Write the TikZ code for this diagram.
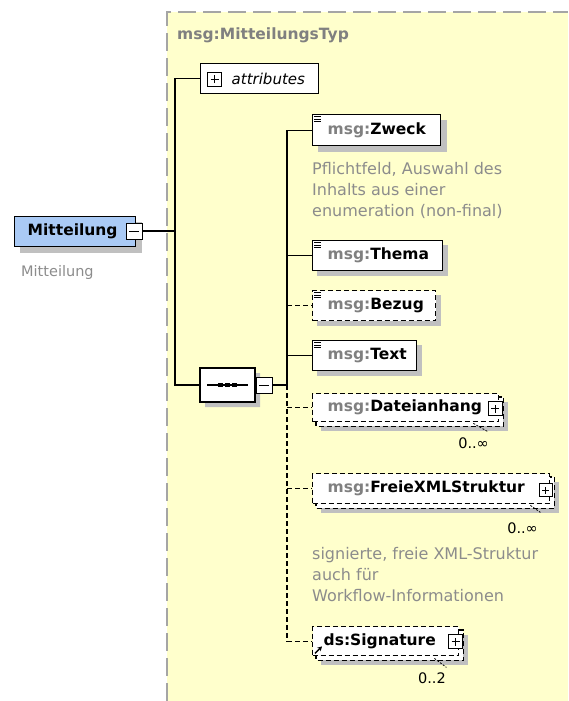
\documentclass[tikz,border=0pt]{standalone}
\usepackage{fontspec}
\setmainfont{DejaVu Sans}
\usetikzlibrary{arrows.meta,shapes.misc}

\definecolor{paneyellow}{RGB}{255,255,204}
\definecolor{framegrey}{RGB}{165,165,165}
\definecolor{shadowgrey}{RGB}{192,192,192}
\definecolor{prefixgrey}{RGB}{128,128,128}
\definecolor{notegrey}{RGB}{140,140,140}
\definecolor{rootblue}{RGB}{170,202,245}

\pgfdeclarelayer{pane}
\pgfdeclarelayer{shade}
\pgfsetlayers{pane,shade,main}

% namespace prefix in grey
\newcommand{\pfx}[1]{\textcolor{prefixgrey}{#1}}
% grey drop shadow behind a node, offset by #2 pt
\newcommand{\castshadow}[2]{%
  \fill[shadowgrey] ([shift={(#2pt,-#2pt)}]#1.north west) rectangle ([shift={(#2pt,-#2pt)}]#1.south east);}
% second, offset box behind an element that may repeat
\newcommand{\repeatback}[1]{%
  \draw[boxline, optdash, fill=white] ([shift={(4pt,-4pt)}]#1.north west) rectangle ([shift={(4pt,-4pt)}]#1.south east);}
% three-line marker for elements with simple content
\newcommand{\contentmark}[1]{%
  \foreach \d in {2.5,5,7.5}{\draw[line width=0.9pt] ([shift={(2pt,-\d pt)}]#1.north west) -- ++(6.5pt,0pt);}}

\begin{document}
\begin{tikzpicture}[x=1pt,y=-1pt,
  boxline/.style={line width=1.4pt},
  optdash/.style={dash pattern=on 5pt off 3pt},
  elem/.style={boxline, draw=black, fill=white, anchor=north west, inner xsep=0pt, inner ysep=0pt,
    align=left, font=\fontsize{15.5}{18}\selectfont\bfseries},
  optelem/.style={elem, optdash},
  link/.style={line width=1.3pt, draw=black},
  optlink/.style={link, optdash},
  note/.style={anchor=base west, align=left, inner sep=0pt, text=notegrey, font=\fontsize{16}{21}\selectfont},
  mult/.style={anchor=base east, inner sep=0pt, font=\fontsize{14.5}{17}\selectfont},
  tick/.style={line width=0.8pt, dash pattern=on 2pt off 1.5pt},
  toggle/.style={draw=black, line width=1pt, fill=white, minimum size=#1, inner sep=0pt},
  toggle/.default=15pt,
  signminus/.style={path picture={\draw[line width=1pt]
    ([xshift=3pt]path picture bounding box.west) -- ([xshift=-3pt]path picture bounding box.east);}},
  signplus/.style={path picture={\draw[line width=1pt]
    ([xshift=3pt]path picture bounding box.west) -- ([xshift=-3pt]path picture bounding box.east)
    ([yshift=3pt]path picture bounding box.south) -- ([yshift=-3pt]path picture bounding box.north);}},
  seqshape/.style={chamfered rectangle, chamfered rectangle xsep=7pt, chamfered rectangle ysep=7pt,
    minimum width=55pt, minimum height=34pt, inner sep=0pt},
]
\useasboundingbox (0,0) rectangle (568,701);

% type pane
\begin{pgfonlayer}{pane}
  \fill[paneyellow] (167,12) rectangle (568,701);
  \draw[framegrey, line width=1.5pt, dash pattern=on 18pt off 7pt] (167,701) -- (167,12) -- (568,12);
\end{pgfonlayer}

\node[anchor=base west, inner sep=0pt, text=prefixgrey, font=\fontsize{15.5}{18}\selectfont\bfseries]
  (typename) at (177,40) {msg:MitteilungsTyp};

% root element
\node[elem, fill=rootblue, text width=121pt, minimum height=30pt] (root) at (14,216) {\hspace*{13pt}Mitteilung};
\node[toggle=16pt, signminus] (roottog) at (134,231) {};
\node[anchor=base west, inner sep=0pt, text=notegrey, font=\fontsize{14.5}{17}\selectfont]
  (rootnote) at (21,276) {Mitteilung};

% attributes
\node[elem, font=\fontsize{15}{18}\selectfont\itshape, text width=118pt, minimum height=30pt]
  (attr) at (200,63) {\hspace*{31pt}attributes};
\node[toggle=14pt, signplus] (attrplus) at (214.5,79) {};

% sequence compositor
\node[seqshape, draw=black, line width=1.3pt, fill=white] (seq) at (227.5,385) {};
\draw[line width=1.3pt] ([xshift=8pt]seq.west) -- ([xshift=-8pt]seq.east);
\foreach \dx in {-7,0,7}
  \fill ([xshift=\dx pt]seq.center) +(-2.2pt,-2.2pt) rectangle +(2.2pt,2.2pt);
\node[toggle=16pt, signminus] (seqtog) at (264,385) {};

% child elements
\node[elem, text width=128pt, minimum height=31pt] (zweck) at (312,114) {\hspace*{15pt}\pfx{msg:}Zweck};
\node[elem, text width=130pt, minimum height=30pt] (thema) at (312,240) {\hspace*{15pt}\pfx{msg:}Thema};
\node[optelem, text width=123pt, minimum height=30pt] (bezug) at (312,290) {\hspace*{15pt}\pfx{msg:}Bezug};
\node[elem, text width=104pt, minimum height=30pt] (txt) at (312,340) {\hspace*{15pt}\pfx{msg:}Text};
\node[optelem, text width=186pt, minimum height=28pt] (datei) at (312,393) {\hspace*{15pt}\pfx{msg:}Dateianhang};
\node[optelem, text width=237pt, minimum height=30pt] (freie) at (312,473) {\hspace*{15pt}\pfx{msg:}FreieXMLStruktur};
\node[optelem, text width=146pt, minimum height=29pt] (sig) at (312,626) {\hspace*{11pt}ds:Signature};

\contentmark{zweck}
\contentmark{thema}
\contentmark{bezug}
\contentmark{txt}

\node[toggle=14pt, signplus] (dateiplus) at (495,408.5) {};
\node[toggle=13pt, signplus] (freieplus) at (545.5,490) {};
\node[toggle=14pt, signplus] (sigplus) at (455.5,641.5) {};

% reference arrow
\draw[line width=1.3pt, -{Stealth[length=4.5pt,width=5pt]}]
  ([shift={(3pt,3pt)}]sig.south west) -- ++(7pt,7pt);

% occurrence ranges
\node[mult] (dateimult) at (489,448) {0..∞};
\node[mult] (freiemult) at (538,533) {0..∞};
\node[mult] (sigmult) at (446,683) {0..2};
\draw[tick] ([shift={(-26pt,-1pt)}]datei.south east) -- ++(14pt,-8pt);
\draw[tick] ([shift={(-20pt,-1pt)}]freie.south east) -- ++(10pt,-7pt);
\draw[tick] ([shift={(-25pt,-2pt)}]sig.south east) -- ++(12pt,-9pt);

% annotations (placed by the baseline of their last line)
\node[note] (zwecknote) at (312,216) {Pflichtfeld, Auswahl des\\Inhalts aus einer\\enumeration (non-final)};
\node[note] (signote) at (312,601) {signierte, freie XML-Struktur\\auch für\\Workflow-Informationen};

% connectors
\coordinate (lt) at (175,231);
\coordinate (rt) at (287,385);
\draw[link] (roottog.east) -- (lt);
\draw[link] (attr.west) -| (lt) |- (seq.west);
\draw[link] (seqtog.east) -- (rt);
\draw[link] (zweck.west) -| (rt);
\draw[link] (thema.west -| rt) -- (thema.west);
\draw[link] (txt.west -| rt) -- (txt.west);
\draw[optlink] (bezug.west -| rt) -- (bezug.west);
\draw[optlink] (rt) |- (sig.west);
\draw[optlink] (datei.west -| rt) -- (datei.west);
\draw[optlink] (freie.west -| rt) -- (freie.west);

% shadows and stacked boxes
\begin{pgfonlayer}{shade}
  \castshadow{root}{6}
  \castshadow{zweck}{6}
  \castshadow{thema}{5}
  \castshadow{bezug}{5}
  \castshadow{txt}{5}
  \castshadow{datei}{9}
  \castshadow{freie}{9}
  \castshadow{sig}{9}
  \repeatback{datei}
  \repeatback{freie}
  \repeatback{sig}
  \node[seqshape, fill=shadowgrey] (seqshade) at ([shift={(5pt,-5pt)}]seq.center) {};
\end{pgfonlayer}
\end{tikzpicture}
\end{document}
